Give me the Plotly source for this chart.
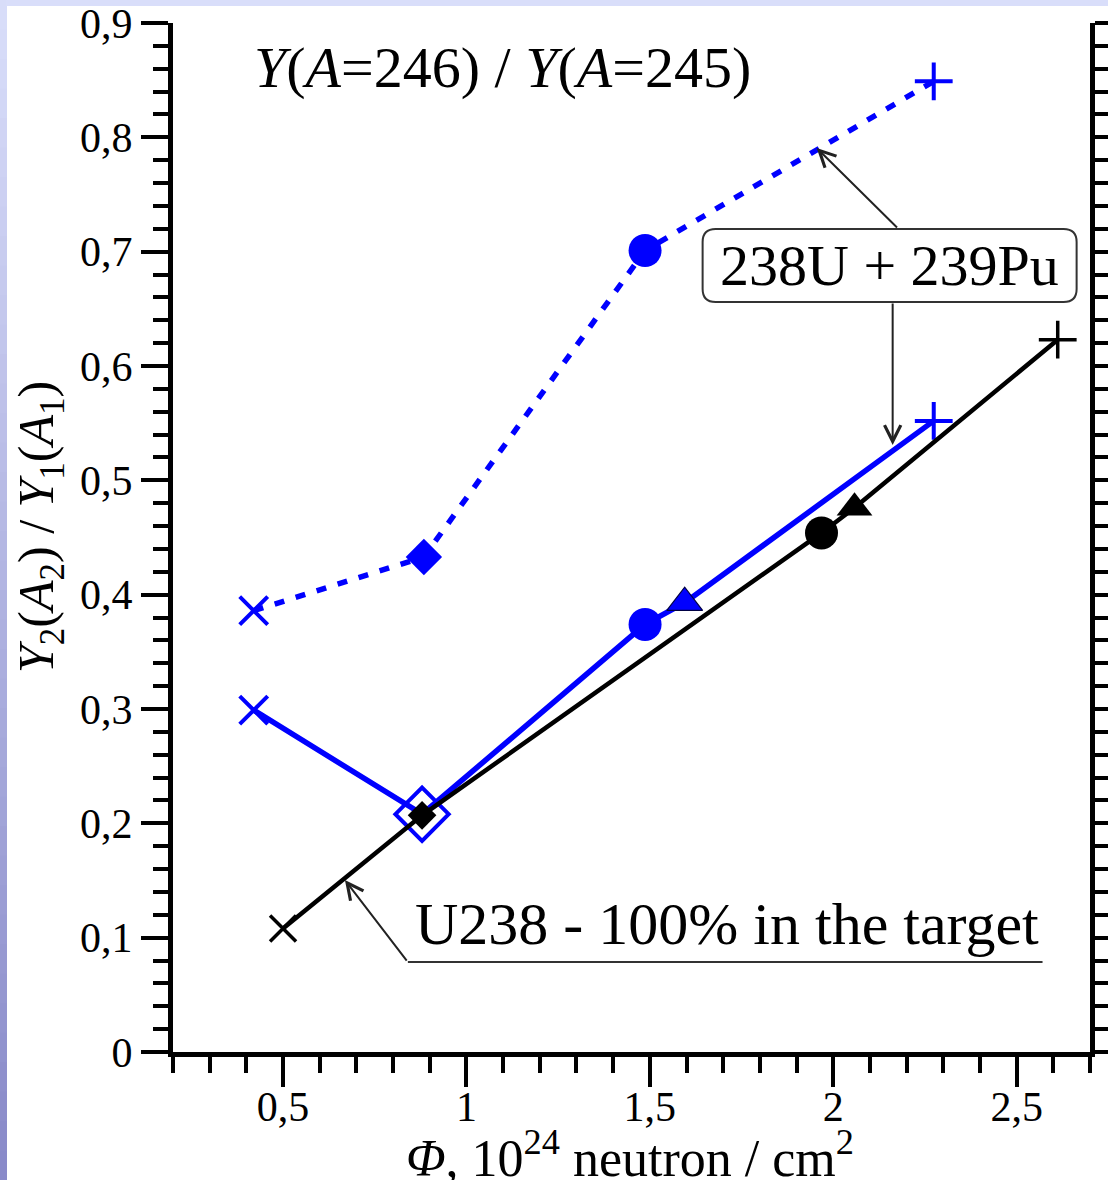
import plotly.graph_objects as go

# ---------------- data ----------------
# Y(A=246)/Y(A=245), 238U + 239Pu target, upper (dashed) branch
pu_dash_x = [0.42, 0.884, 1.487, 2.274]
pu_dash_y = [0.386, 0.433, 0.701, 0.849]

# 238U + 239Pu target, lower (solid) branch
pu_solid_x = [0.42, 0.879, 1.487, 1.595, 2.274]
pu_solid_y = [0.299, 0.208, 0.374, 0.393, 0.552]

# pure U238 target
u238_x = [0.5, 0.879, 1.968, 2.058, 2.612]
u238_y = [0.108, 0.207, 0.454, 0.476, 0.623]

x_tick_vals = [0.5, 1, 1.5, 2, 2.5]
y_tick_vals = [0, 0.1, 0.2, 0.3, 0.4, 0.5, 0.6, 0.7, 0.8, 0.9]

# ---------------- layout geometry ----------------
W, H = 1108, 1180
ML, MR, MT, MB = 173, 18, 23, 128
SERIF = "Liberation Serif"
BLUE = "#0000ff"


def px_x(px):
    return (px - ML) / (W - ML - MR)


def px_y(py):
    return (H - MB - py) / (H - MT - MB)


fig = go.Figure()

# lower blue branch
fig.add_trace(go.Scatter(
    x=pu_solid_x, y=pu_solid_y, mode="lines+markers",
    line=dict(color=BLUE, width=5.5),
    marker=dict(
        symbol=["x-thin-open", "diamond-open", "circle", "triangle-up", "cross-thin-open"],
        size=[28, 41, 33, 31, 27],
        color=BLUE, opacity=1,
        line=dict(width=[4, 4, 0, 1.2, 4], color=[BLUE, BLUE, BLUE, "#000044", BLUE]),
    ),
    showlegend=False,
))

# U238 only
fig.add_trace(go.Scatter(
    x=u238_x, y=u238_y, mode="lines+markers",
    line=dict(color="black", width=4.5),
    marker=dict(
        symbol=["x-thin-open", "diamond", "circle", "triangle-up", "cross-thin-open"],
        size=[26, 22, 33, 31, 27],
        color="black", opacity=1,
        line=dict(width=[3.5, 0, 0, 0, 3.5], color="black"),
    ),
    showlegend=False,
))

# upper blue branch, dashed
fig.add_trace(go.Scatter(
    x=pu_dash_x, y=pu_dash_y, mode="lines+markers",
    line=dict(color=BLUE, width=5.5, dash="10px,12px"),
    marker=dict(
        symbol=["x-thin-open", "diamond", "circle", "cross-thin-open"],
        size=[28, 28, 33, 27],
        color=BLUE, opacity=1,
        line=dict(width=[4, 0, 0, 4], color=BLUE),
    ),
    showlegend=False,
))

# ---------------- page background ----------------
shapes = []
top_rgb = (217, 222, 250)
bot_rgb = (136, 137, 200)
n_strips = 40
for i in range(n_strips):
    t = (i + 0.5) / n_strips
    c = tuple(round(a + (b - a) * t) for a, b in zip(top_rgb, bot_rgb))
    shapes.append(dict(
        type="rect", xref="paper", yref="paper", layer="below",
        x0=px_x(-2), x1=px_x(7),
        y0=px_y((i + 1) * H / n_strips + 1), y1=px_y(i * H / n_strips),
        fillcolor="rgb(%d,%d,%d)" % c, line=dict(width=0),
    ))
shapes.append(dict(
    type="rect", xref="paper", yref="paper", layer="below",
    x0=px_x(6), x1=px_x(W + 2), y0=px_y(6), y1=px_y(-2),
    fillcolor="rgb(%d,%d,%d)" % top_rgb, line=dict(width=0),
))

# rounded label box for "238U + 239Pu"
bw, bh, rr = 187, 36.5, 13
box_path = (
    f"M {-bw + rr},{-bh} L {bw - rr},{-bh} Q {bw},{-bh} {bw},{-bh + rr} "
    f"L {bw},{bh - rr} Q {bw},{bh} {bw - rr},{bh} "
    f"L {-bw + rr},{bh} Q {-bw},{bh} {-bw},{bh - rr} "
    f"L {-bw},{-bh + rr} Q {-bw},{-bh} {-bw + rr},{-bh} Z"
)
box_cx, box_cy = 2.1537, 0.688
shapes.append(dict(
    type="path", xref="x", yref="y", xsizemode="pixel", ysizemode="pixel",
    xanchor=box_cx, yanchor=box_cy, path=box_path,
    fillcolor="white", line=dict(color="#333333", width=2),
))

# underline for the U238 label
shapes.append(dict(
    type="line", xref="x", yref="y",
    x0=0.8403, x1=2.5706, y0=0.0787, y1=0.0787,
    line=dict(color="#333333", width=2),
))

annotations = [
    dict(x=1.099, y=0.861, xref="x", yref="y", showarrow=False,
         text="<i>Y</i>(<i>A</i>=246) / <i>Y</i>(<i>A</i>=245)",
         font=dict(family=SERIF, size=58, color="black")),
    dict(x=box_cx, y=box_cy, xref="x", yref="y", showarrow=False,
         text="238U + 239Pu",
         font=dict(family=SERIF, size=58, color="black")),
    dict(x=1.711, y=0.112, xref="x", yref="y", showarrow=False,
         text="U238 - 100% in the target",
         font=dict(family=SERIF, size=60, color="black")),
    # pointer arrows
    dict(x=1.9548, y=0.7907, ax=2.178, ay=0.7198, xref="x", yref="y",
         axref="x", ayref="y", text="", showarrow=True, arrowhead=5,
         arrowsize=1.6, arrowwidth=2, arrowcolor="#222222", standoff=0),
    dict(x=2.162, y=0.531, ax=2.162, ay=0.656, xref="x", yref="y",
         axref="x", ayref="y", text="", showarrow=True, arrowhead=5,
         arrowsize=1.6, arrowwidth=2, arrowcolor="#222222", standoff=0),
    dict(x=0.6687, y=0.1504, ax=0.8403, ay=0.0787, xref="x", yref="y",
         axref="x", ayref="y", text="", showarrow=True, arrowhead=5,
         arrowsize=1.6, arrowwidth=2, arrowcolor="#222222", standoff=0),
    # axis titles
    dict(x=px_x(630), y=px_y(1154), xref="paper", yref="paper", showarrow=False,
         xanchor="center", yanchor="middle",
         text="<i>Φ</i>, 10<sup>24</sup> neutron / cm<sup>2</sup>",
         font=dict(family=SERIF, size=52, color="black")),
    dict(x=px_x(40), y=px_y(527), xref="paper", yref="paper", showarrow=False,
         xanchor="center", yanchor="middle", textangle=-90,
         text="<i>Y</i><sub>2</sub>(<i>A</i><sub>2</sub>) / <i>Y</i><sub>1</sub>(<i>A</i><sub>1</sub>)",
         font=dict(family=SERIF, size=50, color="black")),
]

fig.update_layout(
    width=W, height=H,
    margin=dict(l=ML, r=MR, t=MT, b=MB, pad=0, autoexpand=False),
    paper_bgcolor="white", plot_bgcolor="white",
    separators=", ",
    shapes=shapes, annotations=annotations,
    font=dict(family=SERIF, color="black"),
)

fig.update_xaxes(
    range=[0.2, 2.7], tickvals=x_tick_vals, automargin=False,
    showgrid=False, zeroline=False,
    showline=True, linecolor="black", linewidth=5, mirror=False,
    ticks="outside", ticklen=30, tickwidth=4, tickcolor="black",
    tickfont=dict(family=SERIF, size=42, color="black"),
    ticklabelstandoff=-16,
    minor=dict(dtick=0.1, tick0=0.2, ticks="outside", ticklen=16, tickwidth=4,
               tickcolor="black", showgrid=False),
)
fig.update_yaxes(
    range=[0, 0.9], tickvals=y_tick_vals, automargin=False,
    showgrid=False, zeroline=False,
    showline=True, linecolor="black", linewidth=5, mirror="ticks",
    ticks="outside", ticklen=27, tickwidth=4, tickcolor="black",
    tickfont=dict(family=SERIF, size=42, color="black"),
    ticklabelstandoff=0,
    minor=dict(dtick=0.02, tick0=0, ticks="outside", ticklen=15, tickwidth=4,
               tickcolor="black", showgrid=False),
)

fig.write_html("out.html")
